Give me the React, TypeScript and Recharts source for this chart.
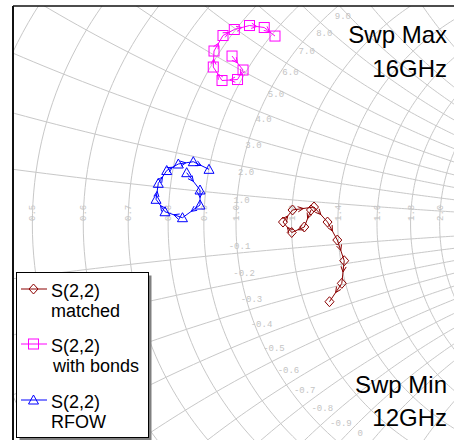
import React from 'react';
import { ScatterChart, Scatter, XAxis, YAxis, ReferenceDot } from 'recharts';

// sweep: 12 GHz .. 16 GHz
const freqGHz = [12, 12.4, 12.8, 13.2, 13.6, 14, 14.4, 14.8, 15.2, 15.6, 16];

// S(2,2) as reflection coefficient (real / imag)
const matchedRe = [0.1227, 0.1118, 0.0912, 0.0769, 0.0925, 0.1277, 0.1498, 0.1658, 0.1771, 0.1732, 0.153];
const matchedIm = [0.024, -0.0051, -0.0145, 0.0034, 0.024, 0.0291, 0.0034, -0.0274, -0.0628, -0.1015, -0.1329];
const bondsRe = [-0.0065, 0.0115, 0.0025, -0.0229, -0.0372, -0.036, -0.0213, -0.0028, 0.0221, 0.0462, 0.0638];
const bondsIm = [0.2874, 0.2635, 0.2472, 0.2455, 0.2686, 0.296, 0.3225, 0.3328, 0.3396, 0.3362, 0.3216];
const rfowRe = [-0.0807, -0.0589, -0.0589, -0.0876, -0.1162, -0.1309, -0.1272, -0.1134, -0.0944, -0.0699, -0.0442];
const rfowIm = [0.0878, 0.0582, 0.0325, 0.0108, 0.021, 0.0423, 0.0696, 0.0915, 0.1027, 0.1066, 0.0936];

// smith grid
const resistances = [0.4, 0.5, 0.6, 0.7, 0.8, 0.9, 1.0, 1.2, 1.4, 1.6, 1.8, 2.0];
const reactances = [0.1, 0.2, 0.3, 0.4, 0.5, 0.6, 0.7, 0.8, 0.9, 1.0, 1.2, 1.4];
const resLabelValues = [0.5, 0.6, 0.7, 0.8, 0.9, 1.0, 1.2, 1.4, 1.6, 1.8, 2.0];
const resLabels = ['0.5', '0.6', '0.7', '0.8', '0.9', '1.0', '1.2', '1.4', '1.6', '1.8', '2.0'];
const xLabelValues = [0.1, 0.2, 0.3, 0.4, 0.5, 0.6, 0.7, 0.8, 0.9];
const xLabelsUp = ['1.0', '2.0', '3.0', '4.0', '5.0', '6.0', '7.0', '8.0', '9.0'];
const xLabelValuesDown = [-0.1, -0.2, -0.3, -0.4, -0.5, -0.6, -0.7, -0.8, -0.9, -1.0];
const xLabelsDown = ['-0.1', '-0.2', '-0.3', '-0.4', '-0.5', '-0.6', '-0.7', '-0.8', '-0.9', '0'];

const W = 454;
const H = 440;
const M = { top: 6, right: 0, bottom: 0, left: 13 };
const XMIN = -0.365;
const XMAX = 0.3568;
const YMIN = -0.3695;
const YMAX = 0.373;
const KX = (W - M.left - M.right) / (XMAX - XMIN);
const KY = (H - M.top - M.bottom) / (YMAX - YMIN);

const GRID = '#c8c8c8';
const LABEL = '#c4c4c4';
const RED = '#8b0000';
const PINK = '#ff00ff';
const BLUE = '#0000ff';
const FONT = '"Liberation Sans", Arial, sans-serif';
const MONO = '"Liberation Mono", monospace';

// z = r + jx  ->  gamma
const gamma = (r: number, x: number) => {
  const d = (r + 1) * (r + 1) + x * x;
  return { x: (r * r + x * x - 1) / d, y: (2 * x) / d };
};

const range = (a: number, b: number, step: number) => {
  const out: number[] = [];
  for (let v = a; v <= b + 1e-9; v += step) out.push(v);
  return out;
};

const resCurves = resistances.map((r) => range(-2, 2, 0.02).map((x) => gamma(r, x)));
const reactCurves = reactances.flatMap((x) => [
  range(0.3, 2.6, 0.02).map((r) => gamma(r, x)),
  range(0.3, 2.6, 0.02).map((r) => gamma(r, -x)),
]);

const noDot = () => <g />;

const toPoints = (re: number[], im: number[]) =>
  re.map((v, i) => ({ x: v, y: im[i], i, f: freqGHz[i] }));

const marker = (kind: string, cx: number, cy: number, color: string) => {
  if (kind === 'diamond')
    return <path d={`M${cx},${cy - 5}L${cx + 4.5},${cy}L${cx},${cy + 5}L${cx - 4.5},${cy}Z`} fill="none" stroke={color} />;
  if (kind === 'square')
    return <rect x={cx - 5} y={cy - 5} width={10} height={10} fill="none" stroke={color} />;
  return <path d={`M${cx},${cy - 5}L${cx + 5},${cy + 4}L${cx - 5},${cy + 4}Z`} fill="none" stroke={color} />;
};

// marker plus an arrow half way to the next sweep point
const makeShape = (kind: string, color: string, re: number[], im: number[]) => (props: any) => {
  const { cx, cy, payload } = props;
  const i = payload.i;
  let arrow = null;
  if (i < re.length - 1) {
    const dx = (re[i + 1] - re[i]) * KX;
    const dy = -(im[i + 1] - im[i]) * KY;
    const mx = cx + dx / 2;
    const my = cy + dy / 2;
    const a = Math.atan2(dy, dx);
    const L = 6;
    const w = 0.45;
    const p1 = `${mx - L * Math.cos(a - w)},${my - L * Math.sin(a - w)}`;
    const p2 = `${mx - L * Math.cos(a + w)},${my - L * Math.sin(a + w)}`;
    arrow = <path d={`M${p1}L${mx},${my}L${p2}`} fill="none" stroke={color} />;
  }
  return (
    <g>
      {marker(kind, cx, cy, color)}
      {arrow}
    </g>
  );
};

const series = [
  { name: 'matched', kind: 'diamond', color: RED, re: matchedRe, im: matchedIm },
  { name: 'with bonds', kind: 'square', color: PINK, re: bondsRe, im: bondsIm },
  { name: 'RFOW', kind: 'triangle', color: BLUE, re: rfowRe, im: rfowIm },
];

const SmithChart = () => (
  <ScatterChart width={W} height={H} margin={M}>
    <XAxis type="number" dataKey="x" domain={[XMIN, XMAX]} allowDataOverflow hide />
    <YAxis type="number" dataKey="y" domain={[YMIN, YMAX]} allowDataOverflow hide />
    {resCurves.map((pts, k) => (
      <Scatter key={`r${k}`} data={pts} line={{ stroke: GRID, strokeWidth: 1 }} shape={noDot} isAnimationActive={false} />
    ))}
    {reactCurves.map((pts, k) => (
      <Scatter key={`x${k}`} data={pts} line={{ stroke: GRID, strokeWidth: 1 }} shape={noDot} isAnimationActive={false} />
    ))}
    {resLabelValues.map((r, k) => (
      <ReferenceDot
        key={`rl${k}`}
        x={gamma(r, 0).x}
        y={0}
        r={0}
        ifOverflow="visible"
        shape={(p: any) => (
          <text transform={`translate(${p.cx + 3},${p.cy - 3}) rotate(-90)`} fontSize={9} fill={LABEL} fontFamily={MONO}>
            {resLabels[k]}
          </text>
        )}
      />
    ))}
    {xLabelValues.map((x, k) => (
      <ReferenceDot
        key={`xu${k}`}
        x={gamma(1, x).x}
        y={gamma(1, x).y}
        r={0}
        ifOverflow="visible"
        shape={(p: any) => (
          <text x={p.cx + 4} y={p.cy + 7 + 8 * x} textAnchor="middle" fontSize={9} fill={LABEL} fontFamily={MONO}>
            {xLabelsUp[k]}
          </text>
        )}
      />
    ))}
    {xLabelValuesDown.map((x, k) => (
      <ReferenceDot
        key={`xd${k}`}
        x={gamma(1, x).x}
        y={gamma(1, x).y}
        r={0}
        ifOverflow="visible"
        shape={(p: any) => (
          <text x={p.cx + 2} y={Math.min(p.cy - 3 + 15 * x, 436)} textAnchor="middle" fontSize={9} fill={LABEL} fontFamily={MONO}>
            {xLabelsDown[k]}
          </text>
        )}
      />
    ))}
    {series.map((s) => (
      <Scatter
        key={s.name}
        name={s.name}
        data={toPoints(s.re, s.im)}
        line={{ stroke: s.color, strokeWidth: 1 }}
        shape={makeShape(s.kind, s.color, s.re, s.im)}
        isAnimationActive={false}
      />
    ))}
  </ScatterChart>
);

const Overlay = () => {
  const rows = [
    { y: 289, sub: 'matched', subX: 51 },
    { y: 344, sub: 'with bonds', subX: 53 },
    { y: 400, sub: 'RFOW', subX: 51 },
  ];
  return (
    <svg width={W} height={H} style={{ position: 'absolute', left: 0, top: 0, pointerEvents: 'none' }}>
      <line x1={13} y1={6} x2={W} y2={6} stroke="#111" strokeWidth={1.5} />
      <line x1={13} y1={6} x2={13} y2={H} stroke="#111" strokeWidth={2} />
      <g fontFamily={FONT} fontSize={24} fill="#000" textAnchor="end">
        <text x={447} y={43}>Swp Max</text>
        <text x={447} y={77}>16GHz</text>
        <text x={447} y={393}>Swp Min</text>
        <text x={447} y={426}>12GHz</text>
      </g>
      <rect x={19.5} y={275.5} width={132} height={165} fill="#808080" />
      <rect x={16.5} y={272.5} width={132} height={165} fill="#fff" stroke="#000" />
      {series.map((s, k) => (
        <g key={s.name}>
          <line x1={21} y1={rows[k].y} x2={47} y2={rows[k].y} stroke={s.color} />
          {marker(s.kind, 33.5, rows[k].y, s.color)}
          <text x={51} y={rows[k].y + 8} fontFamily={FONT} fontSize={18} fill="#000">S(2,2)</text>
          <text x={rows[k].subX} y={rows[k].y + 28} fontFamily={FONT} fontSize={18} fill="#000">{rows[k].sub}</text>
        </g>
      ))}
    </svg>
  );
};

export default function App() {
  return (
    <div style={{ position: 'absolute', left: 0, top: 0, width: W, height: H, background: '#fff' }}>
      <SmithChart />
      <Overlay />
    </div>
  );
}
